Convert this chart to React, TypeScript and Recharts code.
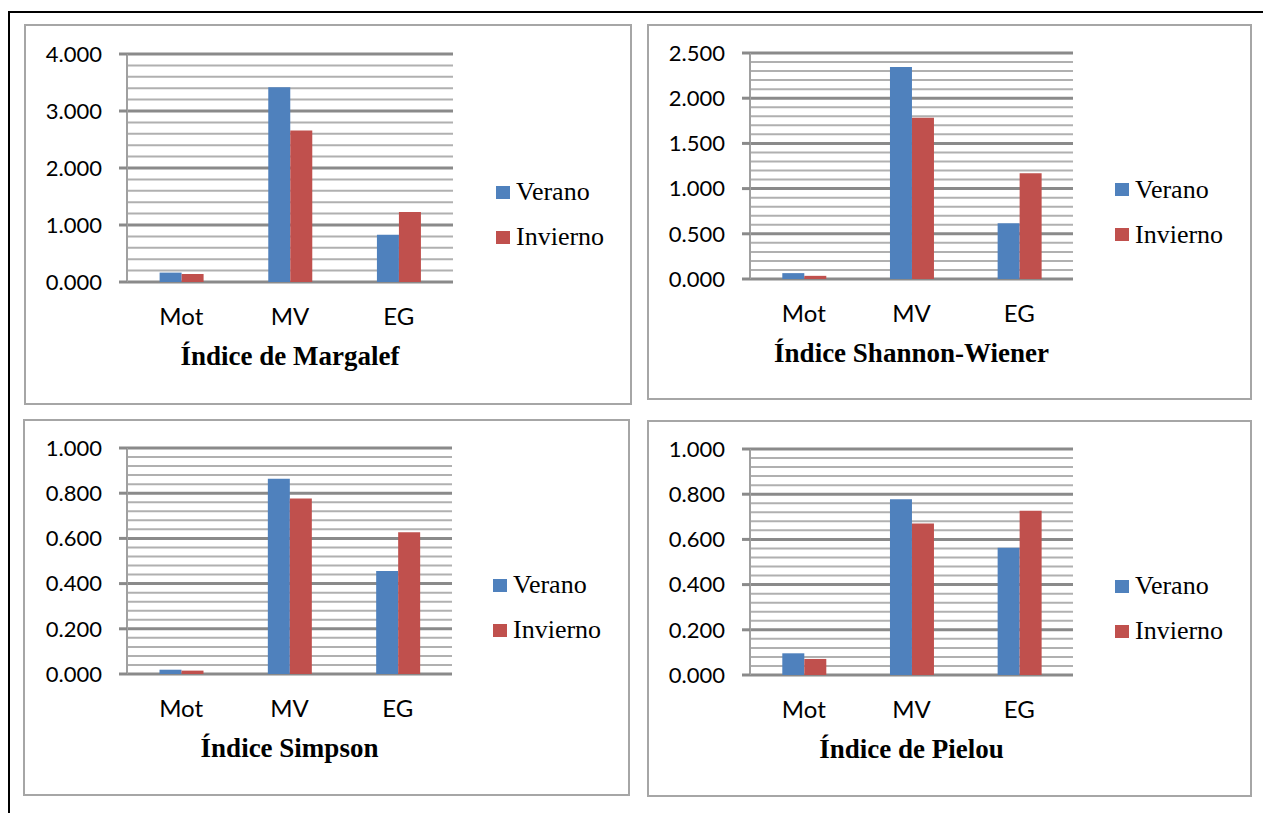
import React from 'react';
import { BarChart, Bar, XAxis, YAxis, CartesianGrid, Legend } from 'recharts';

const categories = ['Mot', 'MV', 'EG'];
const seriesOrder = ['Verano', 'Invierno'];

const margalefVerano = [0.165, 3.415, 0.83];
const margalefInvierno = [0.14, 2.66, 1.23];
const shannonVerano = [0.065, 2.345, 0.617];
const shannonInvierno = [0.035, 1.783, 1.171];
const simpsonVerano = [0.019, 0.864, 0.456];
const simpsonInvierno = [0.015, 0.777, 0.627];
const pielouVerano = [0.096, 0.778, 0.563];
const pielouInvierno = [0.071, 0.67, 0.727];

const margalefTicks = [0, 1, 2, 3, 4];
const shannonTicks = [0, 0.5, 1, 1.5, 2, 2.5];
const simpsonTicks = [0, 0.2, 0.4, 0.6, 0.8, 1];
const pielouTicks = [0, 0.2, 0.4, 0.6, 0.8, 1];

const VERANO = '#4F81BD';
const INVIERNO = '#C0504D';
const SANS = 'Lato, "Open Sans", sans-serif';
const SERIF = '"Liberation Serif", "Times New Roman", serif';

// minor gridlines: 4 between each pair of labelled ticks
const minorLines = (ticks: number[], divisions: number) => {
  const out: number[] = [];
  for (let i = 0; i < ticks.length - 1; i++) {
    const step = (ticks[i + 1] - ticks[i]) / divisions;
    for (let k = 1; k < divisions; k++) out.push(ticks[i] + step * k);
  }
  return out;
};

type Box = { x: number; y: number; w: number; h: number };
type Plot = { x1: number; x2: number; y1: number; y2: number };

interface PanelProps {
  title: string;
  verano: number[];
  invierno: number[];
  ticks: number[];
  box: Box;
  plot: Plot;
  legendX: number;
}

const renderLegend = (props: any) => {
  const items = [...(props.payload || [])].sort(
    (a: any, b: any) => seriesOrder.indexOf(a.value) - seriesOrder.indexOf(b.value)
  );
  return (
    <div style={{ fontFamily: SERIF, fontSize: 26, color: '#000' }}>
      {items.map((it: any) => (
        <div key={it.value} style={{ display: 'flex', alignItems: 'center', height: 45 }}>
          <span style={{ display: 'inline-block', width: 14, height: 13, background: it.color, marginRight: 6 }} />
          <span>{it.value}</span>
        </div>
      ))}
    </div>
  );
};

const Panel: React.FC<PanelProps> = ({ title, verano, invierno, ticks, box, plot, legendX }) => {
  const data = categories.map((cat, i) => ({ cat, verano: verano[i], invierno: invierno[i] }));
  const xAxisHeight = 90;
  const margin = {
    top: plot.y1 - box.y,
    left: 0,
    right: box.x + box.w - plot.x2,
    bottom: box.y + box.h - plot.y2 - xAxisHeight,
  };
  return (
    <>
      <div
        style={{
          position: 'absolute',
          left: box.x,
          top: box.y,
          width: box.w,
          height: box.h,
          border: '2px solid #a6a6a6',
          boxSizing: 'border-box',
        }}
      />
      <div style={{ position: 'absolute', left: box.x, top: box.y }}>
        <BarChart
          width={box.w}
          height={box.h}
          data={data}
          margin={margin}
          barCategoryGap="30%"
          barGap={0}
        >
          <CartesianGrid
            vertical={false}
            horizontalValues={minorLines(ticks, 5)}
            stroke="#b0b0b0"
            strokeWidth={2}
          />
          <CartesianGrid vertical={false} stroke="#8a8a8a" strokeWidth={3} />
          <XAxis
            dataKey="cat"
            height={xAxisHeight}
            axisLine={false}
            tickLine={false}
            tickSize={0}
            tickMargin={26}
            tick={{ fill: '#000', fontSize: 24, fontFamily: SANS }}
            label={{
              value: title,
              position: 'insideBottom',
              offset: 7,
              fill: '#000',
              fontSize: 27,
              fontWeight: 'bold',
              fontFamily: SERIF,
            }}
          />
          <YAxis
            width={plot.x1 - box.x}
            domain={[0, ticks[ticks.length - 1]]}
            ticks={ticks}
            interval={0}
            tickFormatter={(v: number) => v.toFixed(3)}
            tickSize={8}
            tickMargin={17}
            axisLine={{ stroke: '#a0a0a0', strokeWidth: 2 }}
            tickLine={{ stroke: '#8a8a8a', strokeWidth: 3 }}
            tick={{ fill: '#000', fontSize: 22, fontFamily: SANS }}
          />
          <Legend
            layout="horizontal"
            verticalAlign="middle"
            align="center"
            content={renderLegend}
            wrapperStyle={{ left: legendX, width: 140 }}
          />
          <Bar dataKey="verano" name="Verano" fill={VERANO} isAnimationActive={false} />
          <Bar dataKey="invierno" name="Invierno" fill={INVIERNO} isAnimationActive={false} />
        </BarChart>
      </div>
    </>
  );
};

export default function App() {
  return (
    <div
      style={{
        position: 'absolute',
        left: 0,
        top: 0,
        width: 1263,
        height: 813,
        background: '#fff',
        overflow: 'hidden',
      }}
    >
      <div
        style={{
          position: 'absolute',
          left: 8,
          top: 11,
          width: 1270,
          height: 820,
          borderTop: '2px solid #000',
          borderLeft: '2px solid #000',
        }}
      />
      <Panel
        title="Índice de Margalef"
        verano={margalefVerano}
        invierno={margalefInvierno}
        ticks={margalefTicks}
        box={{ x: 24, y: 24, w: 608, h: 381 }}
        plot={{ x1: 127, x2: 453, y1: 54, y2: 282 }}
        legendX={472}
      />
      <Panel
        title="Índice Shannon-Wiener"
        verano={shannonVerano}
        invierno={shannonInvierno}
        ticks={shannonTicks}
        box={{ x: 647, y: 24, w: 605, h: 376 }}
        plot={{ x1: 750, x2: 1073, y1: 53, y2: 279 }}
        legendX={468}
      />
      <Panel
        title="Índice Simpson"
        verano={simpsonVerano}
        invierno={simpsonInvierno}
        ticks={simpsonTicks}
        box={{ x: 23, y: 419, w: 607, h: 377 }}
        plot={{ x1: 127, x2: 452, y1: 448, y2: 674 }}
        legendX={470}
      />
      <Panel
        title="Índice de Pielou"
        verano={pielouVerano}
        invierno={pielouInvierno}
        ticks={pielouTicks}
        box={{ x: 647, y: 420, w: 605, h: 377 }}
        plot={{ x1: 750, x2: 1073, y1: 449, y2: 675 }}
        legendX={468}
      />
    </div>
  );
}
